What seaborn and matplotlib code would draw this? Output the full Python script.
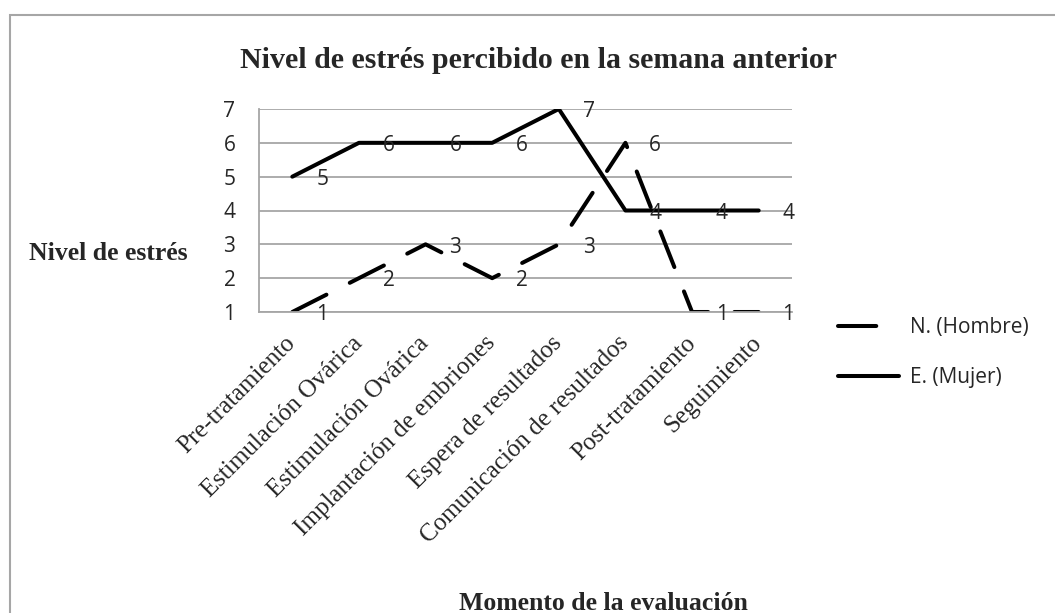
import pandas as pd
import matplotlib.pyplot as plt
import matplotlib.patches as patches
import seaborn as sns

# Datos del grafico
momentos = ["Pre-tratamiento", "Estimulación Ovárica", "Estimulación Ovárica",
            "Implantación de embriones", "Espera de resultados",
            "Comunicación de resultados", "Post-tratamiento", "Seguimiento"]
hombre = [1, 2, 3, 2, 3, 6, 1, 1]
mujer = [5, 6, 6, 6, 7, 4, 4, 4]
series = ["N. (Hombre)", "E. (Mujer)"]
y_ticks = [1, 2, 3, 4, 5, 6, 7]

# Tabla larga para seaborn (posiciones numericas porque hay categorias repetidas)
pos = list(range(len(momentos)))
df = pd.DataFrame({
    "pos": pos + pos,
    "valor": hombre + mujer,
    "serie": [series[0]] * len(pos) + [series[1]] * len(pos),
})

sns.set_style("white")
sans = ["Open Sans", "DejaVu Sans"]
serif = ["Liberation Serif", "DejaVu Serif"]
grey = "#a6a6a6"

fig = plt.figure(figsize=(10.55, 6.13), dpi=100)
ax = fig.add_axes([259 / 1055, 1 - 312 / 613, 533 / 1055, 203 / 613])

lw = 2.9
sns.lineplot(data=df, x="pos", y="valor", hue="serie", style="serie",
             palette={series[0]: "black", series[1]: "black"},
             dashes={series[0]: (9.5, 6.5), series[1]: ""},
             linewidth=lw, sort=False, ax=ax,
             solid_capstyle="round", dash_capstyle="round",
             solid_joinstyle="round", dash_joinstyle="round")

# Etiquetas de datos a la derecha de cada punto
for serie_vals in (hombre, mujer):
    for x, v in zip(pos, serie_vals):
        ax.annotate(str(v), (x, v), xytext=(21.5, -2), textcoords="offset points",
                    ha="center", va="center", fontsize=15, family=sans,
                    annotation_clip=False)

ax.set_xlim(-0.5, len(momentos) - 0.5)
ax.set_ylim(1, 7)
ax.set_yticks(y_ticks)
ax.set_yticklabels([str(t) for t in y_ticks], family=sans, fontsize=15)
ax.set_xticks(pos)
ax.set_xticklabels(momentos, rotation=45, ha="right", va="center",
                   rotation_mode="anchor", family=serif, fontsize=18)
ax.tick_params(axis="x", length=0, pad=20)
ax.tick_params(axis="y", length=4, width=1.3, color=grey, pad=13)

ax.grid(axis="y", color=grey, linewidth=1.3)
ax.set_axisbelow(True)
for side in ("top", "right"):
    ax.spines[side].set_visible(False)
for side in ("left", "bottom"):
    ax.spines[side].set_color(grey)
    ax.spines[side].set_linewidth(1.3)

ax.set_title("Nivel de estrés percibido en la semana anterior", x=0.525, y=1.20,
             va="center", family=serif, fontweight="bold", fontsize=21.5)
ax.set_ylabel("Nivel de estrés", rotation=0, ha="center", va="center",
              family=serif, fontweight="bold", fontsize=18.5)
ax.yaxis.set_label_coords(-0.283, 0.29)
ax.set_xlabel("Momento de la evaluación", ha="center", va="baseline",
              family=serif, fontweight="bold", fontsize=18.5)
ax.xaxis.set_label_coords(0.647, -1.468)

sns.move_legend(ax, loc="upper left", bbox_to_anchor=(830 / 1055, 1 - 309 / 613),
                bbox_transform=fig.transFigure, frameon=False, title=None,
                borderaxespad=0, handlelength=2.9, handletextpad=0.53,
                labelspacing=1.4, prop={"family": sans, "size": 15})

# Borde del area del grafico
fig.patches.append(patches.Rectangle((10 / 1055, -0.1), 1.1, 1 - 15 / 613 + 0.1,
                                     transform=fig.transFigure, fill=False,
                                     edgecolor=grey, linewidth=1.5))

fig.savefig("out.png", dpi=100)
